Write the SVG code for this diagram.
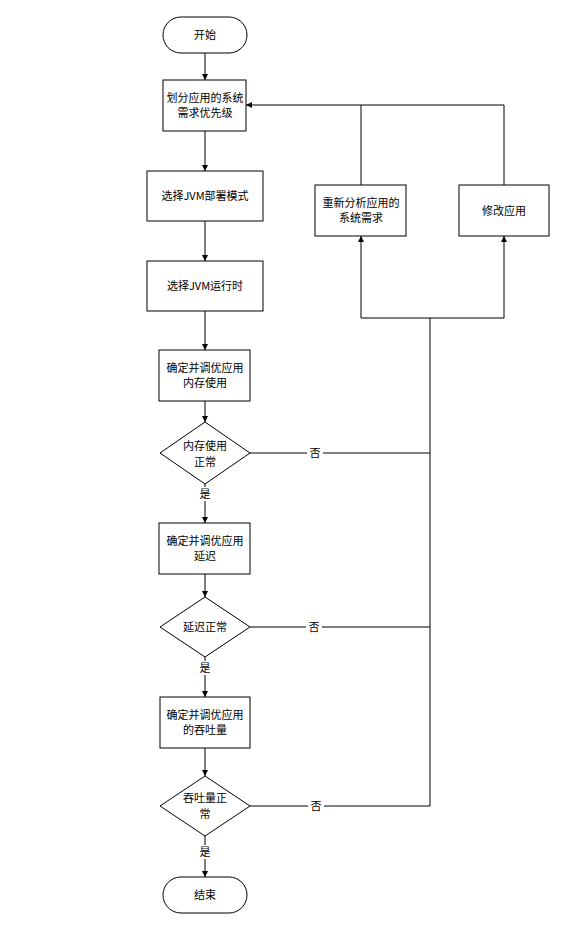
<svg xmlns="http://www.w3.org/2000/svg" width="569" height="936" viewBox="0 0 569 936">
<style>
.n{fill:#fff;stroke:#000;stroke-width:1}
.t{font-family:"Noto Sans CJK SC","Liberation Sans",sans-serif;font-size:11px;fill:#000;text-anchor:middle}
.c{fill:none;stroke:#000;stroke-width:1}
.lb{fill:#fff}
</style>
<defs>
<marker id="a" viewBox="0 0 10 10" refX="10" refY="5" markerWidth="6" markerHeight="6" orient="auto" markerUnits="userSpaceOnUse">
<path d="M0,0 L10,5 L0,10 z" fill="#000"/>
</marker>
</defs>
<rect width="569" height="936" fill="#fff"/>
<g id="connectors">
<path class="c" d="M205,53 V80" marker-end="url(#a)"/>
<path class="c" d="M205,131 V171" marker-end="url(#a)"/>
<path class="c" d="M205,221 V261" marker-end="url(#a)"/>
<path class="c" d="M205,311 V350" marker-end="url(#a)"/>
<path class="c" d="M205,401 V422" marker-end="url(#a)"/>
<path class="c" d="M205,484 V523" marker-end="url(#a)"/>
<path class="c" d="M205,574 V597" marker-end="url(#a)"/>
<path class="c" d="M205,657 V697" marker-end="url(#a)"/>
<path class="c" d="M205,748 V776" marker-end="url(#a)"/>
<path class="c" d="M205,836 V877" marker-end="url(#a)"/>
<path class="c" d="M250,453 H430"/>
<path class="c" d="M250,627 H430"/>
<path class="c" d="M250,806 H430 V318"/>
<path class="c" d="M430,318 H361 V236" marker-end="url(#a)"/>
<path class="c" d="M430,318 H504 V236" marker-end="url(#a)"/>
<path class="c" d="M361,185 V105 H246" marker-end="url(#a)"/>
<path class="c" d="M504,185 V105 H361"/>
<rect class="lb" x="307" y="446" width="16" height="14"/>
<text class="t" x="315" y="457">否</text>
<rect class="lb" x="306" y="620" width="16" height="14"/>
<text class="t" x="314" y="631">否</text>
<rect class="lb" x="308" y="799" width="16" height="14"/>
<text class="t" x="316" y="810">否</text>
<rect class="lb" x="197" y="487" width="16" height="14"/>
<text class="t" x="205" y="498">是</text>
<rect class="lb" x="197" y="661" width="16" height="14"/>
<text class="t" x="205" y="672">是</text>
<rect class="lb" x="197" y="845" width="16" height="14"/>
<text class="t" x="205" y="856">是</text>
</g>
<g id="start"><rect class="n" x="163" y="17" width="84" height="36" rx="18"/><text class="t" x="205" y="39">开始</text></g>
<g id="n1"><rect class="n" x="163" y="80" width="83" height="51"/><text class="t" x="205" y="102">划分应用的系统</text><text class="t" x="205" y="117">需求优先级</text></g>
<g id="n2"><rect class="n" x="147" y="171" width="116" height="50"/><text class="t" x="205" y="200">选择JVM部署模式</text></g>
<g id="n3"><rect class="n" x="147" y="261" width="116" height="50"/><text class="t" x="205" y="290">选择JVM运行时</text></g>
<g id="n4"><rect class="n" x="159" y="350" width="91" height="51"/><text class="t" x="205" y="372">确定并调优应用</text><text class="t" x="205" y="387">内存使用</text></g>
<g id="d1"><polygon class="n" points="205,422 250,453 205,484 160,453"/><text class="t" x="205" y="450">内存使用</text><text class="t" x="205" y="466">正常</text></g>
<g id="n5"><rect class="n" x="159" y="523" width="91" height="51"/><text class="t" x="205" y="545">确定并调优应用</text><text class="t" x="205" y="560">延迟</text></g>
<g id="d2"><polygon class="n" points="205,597 250,627 205,657 160,627"/><text class="t" x="205" y="631">延迟正常</text></g>
<g id="n6"><rect class="n" x="160" y="697" width="90" height="51"/><text class="t" x="205" y="719">确定并调优应用</text><text class="t" x="205" y="734">的吞吐量</text></g>
<g id="d3"><polygon class="n" points="205,776 250,806 205,836 160,806"/><text class="t" x="205" y="802">吞吐量正</text><text class="t" x="205" y="818">常</text></g>
<g id="end"><rect class="n" x="163" y="877" width="84" height="36" rx="18"/><text class="t" x="205" y="899">结束</text></g>
<g id="n7"><rect class="n" x="315" y="185" width="91" height="51"/><text class="t" x="361" y="207">重新分析应用的</text><text class="t" x="361" y="222">系统需求</text></g>
<g id="n8"><rect class="n" x="459" y="185" width="90" height="51"/><text class="t" x="504" y="215">修改应用</text></g>
</svg>
